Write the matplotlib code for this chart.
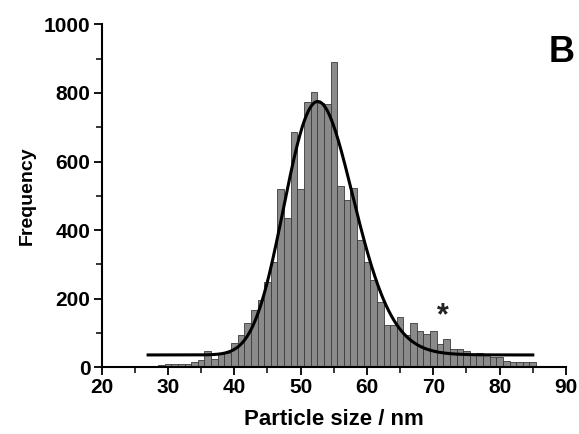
import numpy as np
import matplotlib
matplotlib.use("Agg")
import matplotlib.pyplot as plt
from matplotlib.ticker import MultipleLocator

plt.rcParams['font.family'] = ['Liberation Sans', 'DejaVu Sans']
plt.rcParams['font.weight'] = 'bold'

# histogram: bin centres (nm) and counts
bin_centers = list(range(28, 86))
counts = [3, 6, 9, 10, 10, 11, 15, 20, 48, 24,
          39, 41, 71, 94, 128, 166, 195, 250, 308, 519,
          434, 686, 519, 773, 803, 770, 769, 891, 528, 488,
          524, 371, 306, 255, 191, 123, 123, 148, 95, 130,
          106, 96, 106, 67, 82, 53, 53, 48, 38, 41,
          35, 31, 29, 18, 16, 15, 15, 15]

# log-normal fit parameters: y = y0 + A/(sqrt(2 pi) w x) exp(-ln(x/xc)^2 / (2 w^2))
fit_y0 = 36
fit_xc = 53.1
fit_w = 0.099
fit_A = 9690
fit_range = (27, 85)

marker_pos = (71.4, 150)

fig = plt.figure(figsize=(5.79, 4.34), dpi=100)
ax = fig.add_axes([0.1756, 0.1537, 0.8019, 0.7903])

ax.bar(bin_centers, counts, width=1.0, color='#8a8a8a', edgecolor='#3a3a3a',
       linewidth=0.6, zorder=2)

xf = np.linspace(fit_range[0], fit_range[1], 600)
yf = fit_y0 + fit_A / (np.sqrt(2 * np.pi) * fit_w * xf) * np.exp(-np.log(xf / fit_xc) ** 2 / (2 * fit_w ** 2))
ax.plot(xf, yf, color='black', linewidth=2.2, zorder=3)

ax.text(marker_pos[0], marker_pos[1], '*', ha='center', va='center', fontsize=22,
        fontweight='bold', color='#222222')

ax.set_xlim(20, 90)
ax.set_ylim(0, 1000)
ax.xaxis.set_major_locator(MultipleLocator(10))
ax.xaxis.set_minor_locator(MultipleLocator(5))
ax.yaxis.set_major_locator(MultipleLocator(200))
ax.yaxis.set_minor_locator(MultipleLocator(100))

for s in ('top', 'right'):
    ax.spines[s].set_visible(False)
for s in ('left', 'bottom'):
    ax.spines[s].set_linewidth(1.5)
    ax.spines[s].set_zorder(4)

ax.tick_params(which='major', direction='out', length=6, width=1.3, labelsize=15, pad=2)
ax.tick_params(which='minor', direction='out', length=4, width=1.1)
for lab in ax.get_xticklabels() + ax.get_yticklabels():
    lab.set_fontweight('bold')

ax.set_xlabel('Particle size / nm', fontsize=16, fontweight='bold', labelpad=8)
ax.set_ylabel('Frequency', fontsize=14, fontweight='bold', labelpad=6)

fig.text(562 / 579, 1 - 52.5 / 434, 'B', ha='center', va='center', fontsize=26,
         fontweight='bold')

fig.savefig('out.png', dpi=100)
